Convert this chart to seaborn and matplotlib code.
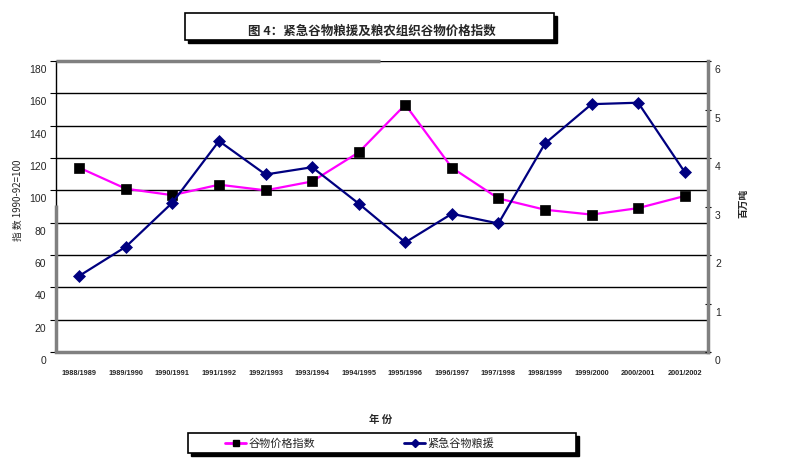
import matplotlib
matplotlib.use("Agg")
import matplotlib.pyplot as plt
import matplotlib.transforms as mtransforms
from matplotlib.patches import Rectangle
from matplotlib.lines import Line2D
import seaborn as sns
import pandas as pd

# ---- data ----
years = ["1988/1989", "1989/1990", "1990/1991", "1991/1992", "1992/1993", "1993/1994",
         "1994/1995", "1995/1996", "1996/1997", "1997/1998", "1998/1999", "1999/2000",
         "2000/2001", "2001/2002"]
price_index = [114, 101, 97, 103.5, 100, 105.5, 123.5, 153, 114, 95, 88, 85, 89, 96.5]
food_aid = [1.57, 2.17, 3.08, 4.35, 3.66, 3.81, 3.06, 2.26, 2.85, 2.65, 4.30, 5.11, 5.14, 3.71]
left_ticks = [0, 20, 40, 60, 80, 100, 120, 140, 160, 180]
right_ticks = [0, 1, 2, 3, 4, 5, 6]

title = "图 4：紧急谷物粮援及粮农组织谷物价格指数"
series1 = "谷物价格指数"
series2 = "紧急谷物粮援"
xlabel = "年 份"
ylabel_left = "指 数 1990-92=100"
ylabel_right = "百万吨"

sns.set_style("white")
plt.rcParams['font.family'] = ['Liberation Sans', 'Noto Sans CJK SC', 'DejaVu Sans']
cjk = ['Noto Sans CJK SC', 'DejaVu Sans']

W, H = 790, 469
fig = plt.figure(figsize=(W / 100, H / 100), dpi=100)
ax = fig.add_axes([56 / W, 1 - 352 / H, (708 - 56) / W, (352 - 61) / H])
ax2 = ax.twinx()

df = pd.DataFrame({"year": years, "price": price_index, "aid": food_aid})
df["pos"] = range(len(years))

PINK = "#FF00FF"
NAVY = "#000080"

sns.lineplot(data=df, x="pos", y="price", ax=ax, color=PINK, linewidth=1.6,
             marker="s", markersize=6.5, markerfacecolor="black",
             markeredgecolor="black", markeredgewidth=0.5, zorder=3)
sns.lineplot(data=df, x="pos", y="aid", ax=ax2, color=NAVY, linewidth=1.6,
             marker="D", markersize=6, markerfacecolor=NAVY,
             markeredgecolor=NAVY, markeredgewidth=0.5, zorder=3)

ax.set_xlim(-0.5, len(years) - 0.5)
ax.set_ylim(0, 180)
ax2.set_ylim(0, 6)
ax.set_yticks(left_ticks)
ax2.set_yticks(right_ticks)
ax.set_xticks(range(len(years)))
ax.set_xticklabels(years, fontsize=5.3, fontweight="bold")
ax.set_xticks([i + 0.5 for i in range(-1, len(years))], minor=True)
ax.tick_params(axis="x", which="major", length=0, pad=13)
ax.tick_params(axis="x", which="minor", length=4, width=0.8, color="black", direction="out")
ax.tick_params(axis="y", length=4, width=0.8, color="black", pad=3, labelsize=7.5, direction="out")
ax2.tick_params(axis="y", length=4, width=0.8, color="black", pad=3, labelsize=7.5, direction="inout")
ax.set_xlabel("")
ax.set_ylabel("")
ax2.set_ylabel("")

# shift y tick labels down like the original
off = mtransforms.ScaledTranslation(0, -8 / 100, fig.dpi_scale_trans)
for lab in ax.get_yticklabels():
    lab.set_transform(lab.get_transform() + off)
for lab in ax2.get_yticklabels():
    lab.set_transform(lab.get_transform() + off)

ax.grid(axis="y", color="black", linewidth=1)
ax.grid(axis="x", visible=False)
ax2.grid(False)
ax.set_axisbelow(True)

GRAY = "#808080"
for a in (ax, ax2):
    a.spines["top"].set_visible(False)
    a.spines["left"].set_visible(False)
    a.spines["right"].set_visible(False)
    a.spines["bottom"].set_visible(False)
ax2.spines["right"].set_visible(True)
ax2.spines["right"].set_color(GRAY)
ax2.spines["right"].set_linewidth(2.5)
ax.spines["bottom"].set_visible(True)
ax.spines["bottom"].set_color(GRAY)
ax.spines["bottom"].set_linewidth(2.5)
ax.spines["left"].set_visible(True)
ax.spines["left"].set_color("black")
ax.spines["left"].set_linewidth(1)
ax.plot([0, 0], [0, 0.505], transform=ax.transAxes, color=GRAY, lw=2.5,
        clip_on=False, solid_capstyle="butt", zorder=4)
ax.plot([0, 0.497], [1, 1], transform=ax.transAxes, color=GRAY, lw=2.5,
        clip_on=False, solid_capstyle="butt", zorder=4)

# axis labels
fig.text(381 / W, 1 - 420 / H, xlabel, family=cjk, fontsize=7.5, fontweight="bold",
         ha="center", va="center")
fig.text(18 / W, 1 - 200 / H, ylabel_left, family=cjk, fontsize=7, rotation=90,
         ha="center", va="center")
fig.text(743 / W, 1 - 203 / H, ylabel_right, family=cjk, fontsize=7, fontweight="bold",
         rotation=90, ha="center", va="center")

# title box
def box(x0, y0, x1, y1, sh=3):
    fig.patches.append(Rectangle(((x0 + sh) / W, 1 - (y1 + sh) / H), (x1 - x0) / W, (y1 - y0) / H,
                                 transform=fig.transFigure, facecolor="black",
                                 edgecolor="black", zorder=1))
    fig.patches.append(Rectangle((x0 / W, 1 - y1 / H), (x1 - x0) / W, (y1 - y0) / H,
                                 transform=fig.transFigure, facecolor="white",
                                 edgecolor="black", linewidth=1.2, zorder=2))

box(185, 13, 554, 40)
fig.text(372 / W, 1 - 31 / H, title, family=cjk, fontsize=9, fontweight="bold",
         ha="center", va="center", zorder=5)

# legend box
box(188, 433, 576, 453, sh=2.5)
handles = [
    Line2D([], [], color=PINK, lw=2, marker="s", markersize=5, markerfacecolor="black",
           markeredgecolor="black"),
    Line2D([], [], color=NAVY, lw=2, marker="D", markersize=4.5, markerfacecolor=NAVY,
           markeredgecolor=NAVY),
]
leg = fig.legend(handles, [series1, series2], loc="center left",
                 bbox_to_anchor=(225 / W, 1 - 444 / H), ncol=2, frameon=False,
                 prop={"family": cjk, "size": 8}, handlelength=1.9, handletextpad=0.2,
                 columnspacing=8.0, borderpad=0, borderaxespad=0)
leg.set_zorder(6)

fig.savefig("out.png", dpi=100)
